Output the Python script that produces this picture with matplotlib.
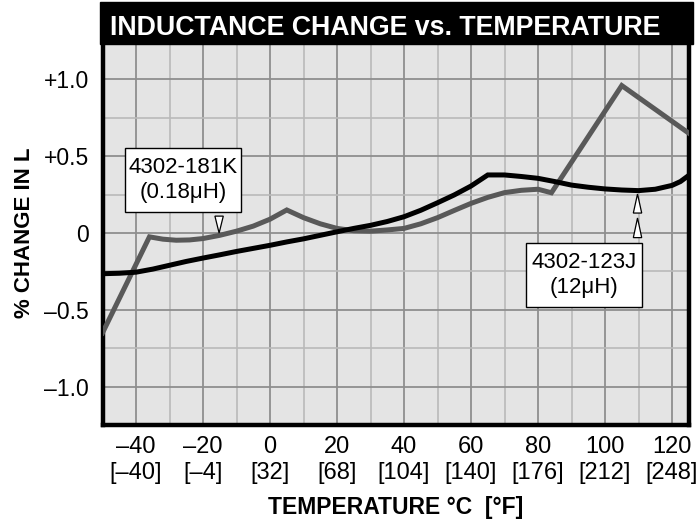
import matplotlib
matplotlib.use("Agg")
import matplotlib.pyplot as plt
from matplotlib.patches import Rectangle, Polygon
from matplotlib.ticker import MultipleLocator

plt.rcParams['font.family'] = ['Liberation Sans', 'DejaVu Sans']

# 4302-123J (12uH), black curve
temp_123j = [-50, -45, -40, -35, -30, -25, -20, -15, -10, -5, 0, 5, 10, 15, 20,
             25, 30, 35, 40, 45, 50, 55, 60, 65, 70, 75, 80, 85, 90, 95, 100,
             105, 110, 115, 120, 122.5, 125]
chg_123j = [-0.265, -0.262, -0.255, -0.235, -0.21, -0.185, -0.163, -0.142, -0.12,
            -0.1, -0.08, -0.058, -0.038, -0.015, 0.008, 0.03, 0.05, 0.075, 0.106,
            0.148, 0.197, 0.248, 0.306, 0.378, 0.378, 0.368, 0.356, 0.335, 0.312,
            0.298, 0.287, 0.28, 0.276, 0.285, 0.31, 0.335, 0.375]

# 4302-181K (0.18uH), grey curve
temp_181k = [-50, -36, -32, -28, -24, -20, -15, -10, -5, 0, 5, 10, 15, 20, 25,
             30, 35, 40, 45, 50, 55, 60, 65, 70, 75, 80, 84, 105, 125]
chg_181k = [-0.65, -0.025, -0.04, -0.047, -0.045, -0.036, -0.015, 0.012, 0.045,
            0.09, 0.15, 0.1, 0.06, 0.03, 0.015, 0.012, 0.02, 0.03, 0.06, 0.1,
            0.147, 0.193, 0.232, 0.263, 0.278, 0.285, 0.262, 0.96, 0.65]

temp_c = [-40, -20, 0, 20, 40, 60, 80, 100, 120]
temp_f = [-40, -4, 32, 68, 104, 140, 176, 212, 248]
y_ticks = [-1.0, -0.5, 0, 0.5, 1.0]
y_labels = ['\u20131.0', '\u20130.5', '0', '+0.5', '+1.0']


def dash(v):
    return str(v).replace('-', '\u2013')


fig = plt.figure(figsize=(6.97, 5.3), dpi=100)
ax = fig.add_axes([0.1471, 0.1981, 0.8411, 0.7245])
ax.set_facecolor('#e4e4e4')

ax.plot(temp_123j, chg_123j, color='black', lw=3.6, solid_joinstyle='miter', zorder=3)
ax.plot(temp_181k, chg_181k, color='#595959', lw=3.6, solid_joinstyle='miter', zorder=2.8)

ax.set_xlim(-50, 125)
ax.set_ylim(-1.25, 1.25)
ax.set_xticks(temp_c)
ax.set_xticklabels([f"{dash(c)}\n[{dash(f)}]" for c, f in zip(temp_c, temp_f)])
ax.xaxis.set_minor_locator(MultipleLocator(10))
ax.set_yticks(y_ticks)
ax.set_yticklabels(y_labels)
ax.yaxis.set_minor_locator(MultipleLocator(0.25))

ax.grid(which='major', color='#8e8e8e', lw=1.3)
ax.grid(which='minor', color='#b9b9b9', lw=1.2)
ax.set_axisbelow(True)
ax.tick_params(which='both', length=0)
ax.tick_params(axis='y', labelsize=16.5, pad=10)
ax.tick_params(axis='x', labelsize=17, pad=8)

for side in ['left', 'right', 'bottom']:
    ax.spines[side].set_linewidth(3.2)
ax.spines['top'].set_visible(False)

ax.set_xlabel('TEMPERATURE \u00b0C  [\u00b0F]', fontsize=16.5, fontweight='bold', labelpad=9)
ax.set_ylabel('% CHANGE IN L', fontsize=16, fontweight='bold', labelpad=6)

# part number boxes
ax.add_patch(Rectangle((-43.3, 0.139), 34.6, 0.413, facecolor='white',
                       edgecolor='black', lw=1.0, zorder=5))
ax.text(-26, 0.345, '4302-181K\n(0.18\u03bcH)', ha='center', va='center',
        fontsize=16, linespacing=1.25, zorder=6)
ax.add_patch(Rectangle((76.4, -0.48), 34.7, 0.417, facecolor='white',
                       edgecolor='black', lw=1.0, zorder=5))
ax.text(93.8, -0.272, '4302-123J\n(12\u03bcH)', ha='center', va='center',
        fontsize=16, linespacing=1.25, zorder=6)

# pointer triangles
for apex, base, xc in [(0.0, 0.11, -15.2), (0.254, 0.13, 109.7), (0.098, -0.03, 109.7)]:
    ax.add_patch(Polygon([(xc - 1.25, base), (xc + 1.25, base), (xc, apex)],
                         closed=True, facecolor='white', edgecolor='black',
                         lw=0.9, zorder=5))

# title band
fig.add_artist(Rectangle((100 / 697, 1 - 44 / 530), 593 / 697, 42 / 530,
                         transform=fig.transFigure, facecolor='black',
                         edgecolor='black', zorder=3))
fig.text(110 / 697, 1 - 28 / 530, 'INDUCTANCE CHANGE vs. TEMPERATURE',
         color='white', fontsize=19.3, fontweight='bold', va='center', ha='left', zorder=4)

fig.savefig('out.png', dpi=100)
